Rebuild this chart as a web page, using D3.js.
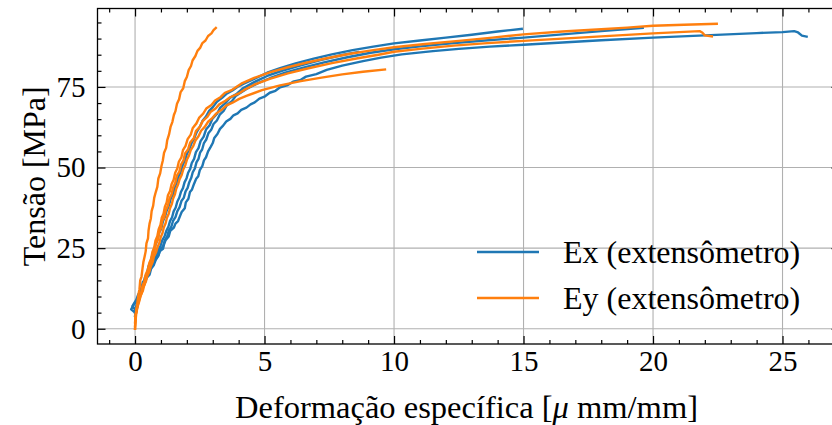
<!DOCTYPE html>
<html>
<head>
<meta charset="utf-8">
<script src="https://cdn.jsdelivr.net/npm/d3@7"></script>
<style>
  body { margin: 0; background: #fff; }
  svg { display: block; }
</style>
</head>
<body>
<svg id="chart" width="832" height="425"></svg>
<script>
// Stress–strain records: [strain (µ mm/mm), stress (MPa)]
// Ex – strain gauge in x direction
const exSpecimen1 = [[0,4],[0.08,6.5],[0.12,8.8],[0.18,10.2],[0.26,12.6],[0.32,13.8],[0.38,15.9],[0.46,17.2],[0.52,19.4],[0.6,20.8],[0.66,22.6],[0.72,24.1],[0.8,26.3],[0.87,27.6],[0.93,29.8],[1.01,31.0],[1.08,33.4],[1.16,34.8],[1.22,36.6],[1.3,38.1],[1.38,40.4],[1.46,41.6],[1.53,43.8],[1.6,45.2],[1.68,47.2],[1.76,48.6],[1.84,50.8],[1.92,52.1],[2.0,54.2],[2.1,55.8],[2.18,57.6],[2.28,59.0],[2.38,61.0],[2.5,62.6],[2.6,64.4],[2.74,65.8],[2.86,67.6],[3.02,68.9],[3.16,70.4],[3.36,71.6],[3.52,72.8],[3.76,73.9],[3.95,75],[4.2,76],[4.6,77.5],[5.1,79.4],[5.6,80.8],[6.2,82.3],[6.9,83.8],[7.6,85.1],[8.4,86.4],[9.2,87.5],[10,88.5],[11,89.4],[12,90.3],[13,91.2],[14,92.2],[14.93,93.0]];
const exSpecimen2 = [[0,6],[-0.1,7],[0.05,9],[0.12,10.6],[0.2,11.6],[0.28,13.2],[0.38,14.2],[0.45,15.8],[0.56,16.8],[0.62,18.6],[0.72,19.7],[0.8,21.4],[0.9,22.6],[0.98,24.6],[1.08,25.6],[1.15,27.4],[1.24,28.7],[1.31,30.6],[1.4,31.7],[1.47,33.5],[1.56,34.6],[1.63,36.4],[1.72,37.7],[1.79,39.6],[1.88,40.6],[1.95,42.6],[2.03,43.7],[2.09,45.4],[2.17,46.8],[2.23,48.6],[2.31,49.7],[2.37,51.6],[2.45,52.7],[2.51,54.6],[2.59,55.6],[2.66,57.6],[2.75,58.7],[2.83,60.6],[2.94,61.7],[3.03,63.5],[3.16,64.6],[3.27,66.4],[3.42,67.6],[3.55,69.4],[3.74,70.6],[3.9,72.3],[4.3,74.4],[4.75,76.2],[5.2,77.7],[5.8,79.4],[6.5,81.0],[7.3,82.6],[8.2,84.2],[9.1,85.6],[10,86.7],[11,87.6],[12.2,88.5],[13.5,89.4],[15,90.3],[16.5,91.3],[18,92.3],[19.6,93.3]];
const exSpecimen3 = [[0,5],[-0.15,6],[-0.05,7.5],[0.1,9],[0.16,11],[0.25,12.5],[0.3,14.5],[0.38,15.2],[0.45,17],[0.58,18.2],[0.62,19.5],[0.7,20.2],[0.8,21.6],[0.9,22.8],[0.95,24],[1.08,24.8],[1.12,26.2],[1.18,27.5],[1.3,28.6],[1.36,30.4],[1.5,31.4],[1.56,32.6],[1.66,33.4],[1.74,35],[1.8,36.2],[1.92,37.4],[1.96,39.2],[2.06,40.3],[2.12,42.4],[2.2,43.2],[2.28,45],[2.36,46.5],[2.44,47.3],[2.5,49.2],[2.6,50.5],[2.66,52.2],[2.74,53.2],[2.82,55],[2.92,56.4],[3.0,57.6],[3.06,59.2],[3.18,60.4],[3.28,62],[3.4,63],[3.52,64.3],[3.68,65.1],[3.8,66.2],[3.96,66.8],[4.1,67.9],[4.3,68.6],[4.46,69.6],[4.62,70.2],[4.8,71.4],[5.02,72.1],[5.2,73.2],[5.42,73.8],[5.6,74.9],[5.9,75.6],[6.1,76.6],[6.4,77.2],[6.6,78.2],[7.0,79],[7.4,80.3],[8.0,81.6],[8.8,83],[9.5,84.1],[10.3,85.1],[11.5,86.1],[12.5,86.8],[13.7,87.5],[15,88.1],[16.5,88.8],[18,89.5],[20,90.3],[22,91.0],[24,91.7],[25.0,92.0],[25.45,92.3],[25.6,91.9],[25.75,90.9],[25.93,90.6]];
const exSpecimen4 = [[0,5],[0.06,7.5],[0.12,9.3],[0.2,10.6],[0.26,12.4],[0.34,13.6],[0.41,15.4],[0.5,16.6],[0.57,18.4],[0.66,19.7],[0.73,21.4],[0.82,22.7],[0.89,24.4],[0.98,25.6],[1.05,27.4],[1.14,28.7],[1.21,30.4],[1.29,31.7],[1.35,33.4],[1.43,34.6],[1.49,36.4],[1.57,37.6],[1.63,39.4],[1.71,40.7],[1.77,42.4],[1.85,43.6],[1.91,45.4],[1.99,46.7],[2.05,48.4],[2.13,49.6],[2.19,51.4],[2.28,52.7],[2.35,54.8],[2.45,56.0],[2.53,58.2],[2.65,59.6],[2.74,61.8],[2.88,63.1],[2.99,65.2],[3.16,66.6],[3.29,68.6],[3.48,69.9],[3.66,71.6],[3.93,72.9],[4.15,74.5],[4.6,76.5],[5.1,78.4],[5.7,80.1],[6.4,81.7],[7.2,83.4],[8.0,84.9],[8.6,85.8]];
// Ey – strain gauge in y direction
const eySpecimen1 = [[0,0],[0.02,4],[0.06,6],[0.1,8.8],[0.14,11],[0.17,12.2],[0.2,15],[0.25,16.2],[0.29,18.8],[0.32,20.6],[0.37,22.4],[0.41,24],[0.44,26.5],[0.5,28],[0.52,30.4],[0.56,32.6],[0.61,34.2],[0.64,36.5],[0.7,38.2],[0.74,40.6],[0.8,42.4],[0.86,44],[0.9,46.6],[0.97,48.2],[1.02,50.5],[1.07,52.1],[1.12,54.6],[1.2,56.1],[1.24,58.4],[1.31,60.2],[1.37,62.6],[1.44,64.1],[1.5,66.3],[1.56,67.5],[1.62,69.8],[1.7,71.2],[1.76,73.4],[1.86,74.6],[1.92,76.8],[2.0,78.1],[2.07,80.2],[2.16,81.5],[2.22,83.2],[2.33,84.6],[2.41,86.2],[2.52,87.2],[2.6,88.6],[2.72,89.4],[2.82,90.8],[2.95,91.6],[3.03,92.6],[3.12,93.3]];
const eySpecimen2 = [[0,1],[0.05,5],[0.11,7.2],[0.17,8.7],[0.22,10.4],[0.3,11.7],[0.35,13.4],[0.42,14.7],[0.47,16.4],[0.55,17.7],[0.61,19.4],[0.68,20.7],[0.73,22.4],[0.81,23.7],[0.87,25.4],[0.94,26.7],[0.99,28.4],[1.06,29.7],[1.11,31.4],[1.18,32.7],[1.23,34.4],[1.3,35.7],[1.35,37.4],[1.42,38.7],[1.47,40.4],[1.54,41.7],[1.59,43.4],[1.66,44.7],[1.72,46.4],[1.8,47.7],[1.86,49.4],[1.94,50.7],[2.0,52.4],[2.08,53.7],[2.15,55.4],[2.25,56.7],[2.33,58.4],[2.45,59.7],[2.55,61.4],[2.7,62.7],[2.82,64.2],[2.99,65.4],[3.14,66.8],[3.34,67.9],[3.52,69.2],[3.78,70.2],[4.02,71.3],[4.3,72.2],[4.9,74],[5.6,75.5],[6.4,76.8],[7.2,77.9],[8.0,78.9],[8.8,79.7],[9.65,80.4]];
const eySpecimen3 = [[0,0],[0.02,4],[0.07,6.4],[0.12,7.8],[0.17,9.8],[0.24,11.2],[0.29,13.4],[0.36,14.7],[0.41,16.8],[0.49,18.2],[0.55,20.4],[0.62,21.7],[0.67,23.8],[0.74,25.2],[0.79,27.4],[0.86,28.7],[0.91,30.8],[0.98,32.2],[1.03,34.4],[1.1,35.7],[1.15,37.8],[1.22,39.2],[1.27,41.4],[1.35,42.7],[1.41,44.8],[1.49,46.2],[1.55,48.4],[1.63,49.7],[1.69,51.8],[1.79,53.2],[1.85,55.4],[1.95,56.7],[2.03,58.8],[2.15,60.2],[2.23,62.3],[2.37,63.7],[2.47,65.4],[2.63,66.7],[2.75,68.3],[2.95,69.4],[3.09,70.8],[3.31,71.9],[3.47,73.2],[3.75,74.1],[4.1,76],[4.6,77.8],[5.2,79.5],[5.9,81.1],[6.6,82.5],[7.4,83.9],[8.3,85.3],[9.2,86.4],[10,87.3],[11.2,88.3],[12.5,89.3],[13.8,90.3],[15,91.3],[16.5,92.2],[18,92.9],[19,93.4],[20,94.0],[21.2,94.3],[22.46,94.6]];
const eySpecimen4 = [[0,2],[0.05,6],[0.11,7.7],[0.17,9.4],[0.24,10.7],[0.29,12.4],[0.37,13.7],[0.42,15.8],[0.5,17.2],[0.55,19.4],[0.62,20.7],[0.67,22.8],[0.75,24.2],[0.8,26.4],[0.88,27.7],[0.93,29.8],[1.0,31.2],[1.05,33.4],[1.13,34.7],[1.19,36.8],[1.27,38.2],[1.33,40.4],[1.41,41.7],[1.47,43.8],[1.55,45.2],[1.61,47.4],[1.71,48.7],[1.77,50.8],[1.87,52.2],[1.93,54.4],[2.05,55.7],[2.13,57.8],[2.27,59.2],[2.35,61.3],[2.51,62.7],[2.61,64.4],[2.79,65.7],[2.91,67.2],[3.11,68.3],[3.25,69.6],[3.49,70.7],[3.67,71.8],[3.99,72.9],[4.2,74],[4.6,75.7],[5.2,77.5],[5.9,79.2],[6.7,80.8],[7.6,82.4],[8.6,83.9],[9.4,85],[10,85.9],[11,86.8],[12.3,87.8],[13.6,88.6],[15,89.3],[16.5,90.0],[18,90.7],[20,91.6],[21.0,92.0],[21.8,92.3],[21.9,91.9],[22.0,91.0],[22.27,90.7]];

const exSeries = [exSpecimen1, exSpecimen2, exSpecimen3, exSpecimen4];
const eySeries = [eySpecimen1, eySpecimen2, eySpecimen3, eySpecimen4];

const seriesNames = ["Ex (extensômetro)", "Ey (extensômetro)"];
const seriesColors = ["#1f77b4", "#ff7f0e"];

const xMajorTicks = [0, 5, 10, 15, 20, 25];
const xMinorTicks = d3.range(-1, 28, 1).filter(v => v % 5 !== 0);
const yMajorTicks = [0, 25, 50, 75];
const yMinorTicks = d3.range(0, 100, 5).filter(v => v % 25 !== 0);

const xTitle = ["Deformação específica [", "μ", " mm/mm]"];
const yTitle = "Tensão [MPa]";

// ---- layout
const FONT = "'Liberation Serif', 'Times New Roman', serif";
const plotLeft = 97.5, plotRight = 839.5, plotTop = 8.5, plotBottom = 344;

const svg = d3.select("#chart");
const x = d3.scaleLinear().domain([-1.45, 27.2]).range([plotLeft, plotRight]);
const y = d3.scaleLinear().domain([-4.73, 99.33]).range([plotBottom, plotTop]);

// grid
const grid = svg.append("g").attr("stroke", "#b0b0b0").attr("stroke-width", 1.1);
grid.selectAll("line.gx").data(xMajorTicks).join("line").attr("class", "gx")
  .attr("x1", d => x(d)).attr("x2", d => x(d)).attr("y1", plotTop).attr("y2", plotBottom);
grid.selectAll("line.gy").data(yMajorTicks).join("line").attr("class", "gy")
  .attr("y1", d => y(d)).attr("y2", d => y(d)).attr("x1", plotLeft).attr("x2", plotRight);

// data lines
svg.append("clipPath").attr("id", "plotArea").append("rect")
  .attr("x", plotLeft).attr("y", plotTop).attr("width", plotRight - plotLeft).attr("height", plotBottom - plotTop);
const line = d3.line().x(d => x(d[0])).y(d => y(d[1]));
const plot = svg.append("g").attr("clip-path", "url(#plotArea)");
[exSeries, eySeries].forEach((group, i) => {
  plot.append("g").selectAll("path").data(group).join("path")
    .attr("d", line)
    .attr("fill", "none")
    .attr("stroke", seriesColors[i])
    .attr("stroke-width", 2.4)
    .attr("stroke-linejoin", "round")
    .attr("stroke-linecap", "square");
});

// axes with inward ticks on all four sides
function styleAxis(g) {
  g.select(".domain").remove();
  g.selectAll(".tick line").attr("stroke", "#000").attr("stroke-width", 1.2);
  g.selectAll("text").attr("font-family", FONT).attr("fill", "#000");
}
const MAJ = 8, MIN = 4;
svg.append("g").attr("transform", `translate(0,${plotBottom})`)
  .call(d3.axisBottom(x).tickValues(xMajorTicks).tickSize(-MAJ).tickPadding(6).tickFormat(d3.format("d")))
  .call(styleAxis).call(g => g.selectAll("text").attr("font-size", 29));
svg.append("g").attr("transform", `translate(0,${plotBottom})`)
  .call(d3.axisBottom(x).tickValues(xMinorTicks).tickSize(-MIN).tickFormat(""))
  .call(styleAxis);
svg.append("g").attr("transform", `translate(0,${plotTop})`)
  .call(d3.axisTop(x).tickValues(xMajorTicks).tickSize(-MAJ).tickFormat(""))
  .call(styleAxis);
svg.append("g").attr("transform", `translate(0,${plotTop})`)
  .call(d3.axisTop(x).tickValues(xMinorTicks).tickSize(-MIN).tickFormat(""))
  .call(styleAxis);
svg.append("g").attr("transform", `translate(${plotLeft},0)`)
  .call(d3.axisLeft(y).tickValues(yMajorTicks).tickSize(-MAJ).tickPadding(12).tickFormat(d3.format("d")))
  .call(styleAxis).call(g => g.selectAll("text").attr("font-size", 29));
svg.append("g").attr("transform", `translate(${plotLeft},0)`)
  .call(d3.axisLeft(y).tickValues(yMinorTicks).tickSize(-MIN).tickFormat(""))
  .call(styleAxis);
svg.append("g").attr("transform", `translate(${plotRight},0)`)
  .call(d3.axisRight(y).tickValues(yMajorTicks).tickSize(-MAJ).tickFormat(""))
  .call(styleAxis);
svg.append("g").attr("transform", `translate(${plotRight},0)`)
  .call(d3.axisRight(y).tickValues(yMinorTicks).tickSize(-MIN).tickFormat(""))
  .call(styleAxis);

// frame
svg.append("rect").attr("x", plotLeft).attr("y", plotTop)
  .attr("width", plotRight - plotLeft).attr("height", plotBottom - plotTop)
  .attr("fill", "none").attr("stroke", "#000").attr("stroke-width", 1.3);

// axis titles
const xt = svg.append("text")
  .attr("x", (plotLeft + plotRight) / 2 - 2).attr("y", 418)
  .attr("text-anchor", "middle").attr("font-family", FONT).attr("font-size", 32.5);
xt.append("tspan").text(xTitle[0]);
xt.append("tspan").attr("font-style", "italic").text(xTitle[1]);
xt.append("tspan").text(xTitle[2]);

svg.append("text")
  .attr("transform", `translate(45,${(plotTop + plotBottom) / 2}) rotate(-90)`)
  .attr("text-anchor", "middle").attr("font-family", FONT).attr("font-size", 32)
  .text(yTitle);

// legend
const legend = svg.append("g");
const legendRows = [252, 298];
seriesNames.forEach((name, i) => {
  legend.append("line")
    .attr("x1", 477).attr("x2", 539).attr("y1", legendRows[i]).attr("y2", legendRows[i])
    .attr("stroke", seriesColors[i]).attr("stroke-width", 2.4);
  legend.append("text")
    .attr("x", 563).attr("y", legendRows[i] + 11)
    .attr("font-family", FONT).attr("font-size", 32)
    .text(name);
});
</script>
</body>
</html>
